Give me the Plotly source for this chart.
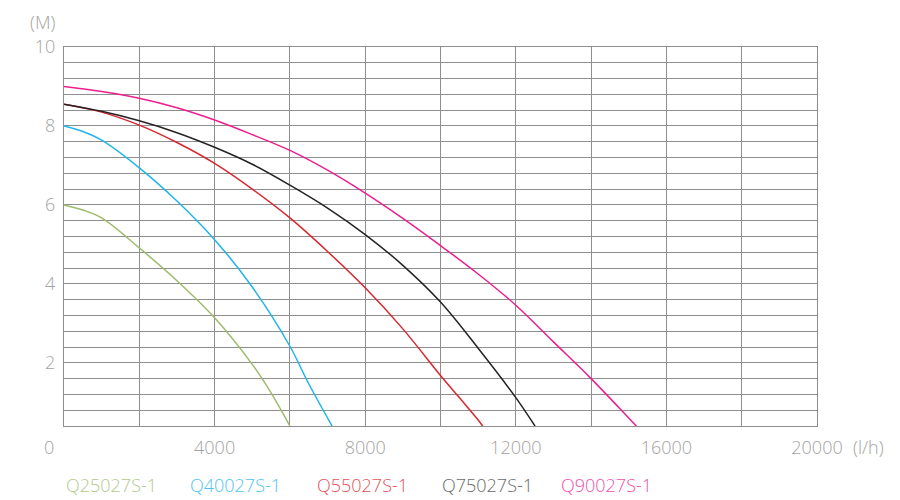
import plotly.graph_objects as go

# Pump performance curves: flow (l/h) vs head (M)
series_names = ["Q25027S-1", "Q40027S-1", "Q55027S-1", "Q75027S-1", "Q90027S-1"]
line_colors = ["#9dbb6e", "#1fb4ea", "#d8262f", "#262223", "#ec1e8f"]
label_colors = ["#b3c98c", "#4fc3ee", "#e4515a", "#6a6a6a", "#ef4fae"]

q25_flow = [0, 500, 1000, 2000, 3000, 4000, 5000, 5500, 6000]
q25_head = [6.0, 5.87, 5.67, 4.91, 4.08, 3.14, 1.96, 1.24, 0.4]

q40_flow = [0, 500, 1000, 2000, 3000, 4000, 5000, 6000, 6500, 7120]
q40_head = [8.0, 7.86, 7.64, 6.94, 6.1, 5.12, 3.92, 2.42, 1.47, 0.4]

q55_flow = [0, 1000, 2000, 3000, 4000, 5000, 6000, 7000, 8000, 9000, 10000, 10500, 11000, 11120]
q55_head = [8.55, 8.35, 8.02, 7.58, 7.05, 6.4, 5.67, 4.82, 3.9, 2.86, 1.68, 1.12, 0.55, 0.4]

q75_flow = [0, 1000, 2000, 3000, 4000, 5000, 6000, 7000, 8000, 9000, 10000,
            11000, 12000, 12510]
q75_head = [8.55, 8.37, 8.13, 7.83, 7.46, 7.03, 6.5, 5.92, 5.25, 4.47, 3.54,
            2.37, 1.12, 0.4]

q90_flow = [0, 1000, 2000, 3000, 4000, 5000, 6000, 7000, 8000, 9000, 10000,
            11000, 12000, 13000, 14000, 15000, 15200]
q90_head = [9.0, 8.87, 8.7, 8.46, 8.15, 7.78, 7.38, 6.88, 6.3, 5.66, 4.97,
            4.25, 3.46, 2.53, 1.6, 0.6, 0.4]

x_ticks = [2000, 4000, 6000, 8000, 10000, 12000, 14000, 16000, 18000, 20000]
x_labels = ["", "4000", "", "8000", "", "12000", "", "16000", "", "20000"]
y_ticks = [round(0.4 * i, 1) for i in range(1, 26)]
y_labels = [str(int(v)) if abs(v / 2 - round(v / 2)) < 1e-9 else "" for v in y_ticks]

FONT = "Open Sans"
WEIGHT = 300
GRAY = "#a3a3a3"
GRID = "#8e8e8e"
FONT_SIZE = 18

fig = go.Figure()
curves = [(q25_flow, q25_head), (q40_flow, q40_head), (q55_flow, q55_head),
          (q75_flow, q75_head), (q90_flow, q90_head)]
for (flow, head), name, color in zip(curves, series_names, line_colors):
    fig.add_trace(
        go.Scatter(
            x=flow,
            y=head,
            mode="lines",
            line=dict(color=color, width=1.5, shape="spline", smoothing=1.0),
            name=name,
        )
    )

# text-only legend under the chart
legend_x = [0.0, 0.165, 0.333, 0.499, 0.658]
for name, color, lx in zip(series_names, label_colors, legend_x):
    fig.add_annotation(
        text=name, xref="paper", yref="paper", x=lx, y=-0.156,
        xanchor="left", yanchor="middle", showarrow=False,
        font=dict(family=FONT, size=FONT_SIZE, color=color, weight=WEIGHT),
    )

fig.add_annotation(text="0", xref="paper", yref="paper", x=-0.02, y=-0.055,
                   xanchor="center", yanchor="middle", showarrow=False,
                   font=dict(family=FONT, size=FONT_SIZE, color=GRAY, weight=WEIGHT))
fig.add_annotation(text="(M)", xref="paper", yref="paper", x=-0.029, y=1.066,
                   xanchor="center", yanchor="middle", showarrow=False,
                   font=dict(family=FONT, size=FONT_SIZE, color=GRAY, weight=WEIGHT))
fig.add_annotation(text="(l/h)", xref="paper", yref="paper", x=1.068, y=-0.055,
                   xanchor="center", yanchor="middle", showarrow=False,
                   font=dict(family=FONT, size=FONT_SIZE, color=GRAY, weight=WEIGHT))

# the page body adds an 8px offset, so margins are shifted to compensate
fig.update_layout(
    width=900,
    height=500,
    margin=dict(l=56, r=91, t=39, b=82),
    paper_bgcolor="white",
    plot_bgcolor="white",
    showlegend=False,
    font=dict(family=FONT, size=FONT_SIZE, color=GRAY, weight=WEIGHT),
)
fig.update_xaxes(
    range=[0, 20000],
    tickmode="array",
    tickvals=x_ticks,
    ticktext=x_labels,
    showgrid=True,
    gridcolor=GRID,
    gridwidth=1.3,
    showline=True,
    linecolor=GRID,
    linewidth=1.3,
    mirror=True,
    zeroline=False,
    ticks="",
    ticklabelstandoff=5,
    automargin=False,
)
fig.update_yaxes(
    range=[0.4, 10],
    tickmode="array",
    tickvals=y_ticks,
    ticktext=y_labels,
    showgrid=True,
    gridcolor=GRID,
    gridwidth=1.3,
    showline=True,
    linecolor=GRID,
    linewidth=1.3,
    mirror=True,
    zeroline=False,
    ticks="",
    ticklabelstandoff=4,
    automargin=False,
)

fig.write_html("out.html")
